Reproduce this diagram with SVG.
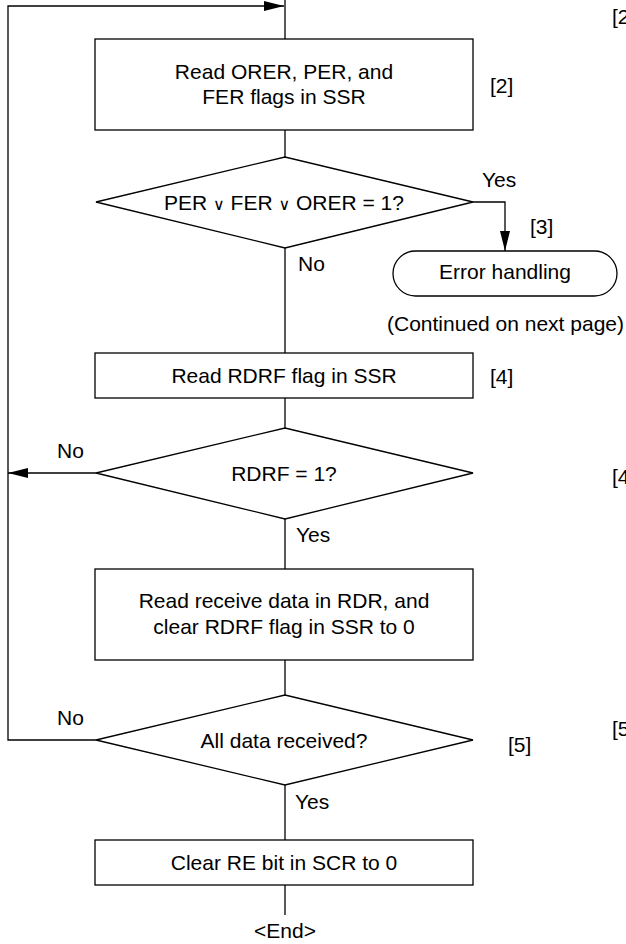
<svg xmlns="http://www.w3.org/2000/svg" width="626" height="944" viewBox="0 0 626 944">
<style>
text{font-family:"Liberation Sans",Arial,sans-serif;font-size:21px;fill:#000}
.c{text-anchor:middle}
.s{fill:#fff;stroke:#000;stroke-width:1.3}
.l{fill:none;stroke:#000;stroke-width:1.3}
.v{font-family:"DejaVu Sans",sans-serif;font-size:16px}
</style>
<defs>
<marker id="ah" markerUnits="userSpaceOnUse" markerWidth="20" markerHeight="10" refX="20" refY="5" orient="auto">
<path d="M0,0 L20,5 L0,10 z" fill="#000"/>
</marker>
</defs>
<g id="connectors">
<path class="l" d="M285,0 V39"/>
<path class="l" d="M285,130 V157"/>
<path class="l" d="M285,248 V353"/>
<path class="l" d="M285,398 V428"/>
<path class="l" d="M285,519 V569"/>
<path class="l" d="M285,660 V695"/>
<path class="l" d="M285,785 V840"/>
<path class="l" d="M285,885 V915"/>
<path class="l" d="M473,202 H505 V251" marker-end="url(#ah)"/>
<path class="l" d="M96,473 H8" marker-end="url(#ah)"/>
<path class="l" d="M96,740 H8 V6 H284" marker-end="url(#ah)"/>
</g>
<g id="n1">
<rect class="s" x="95" y="39" width="378" height="91"/>
<text class="c" x="284" y="79">Read ORER, PER, and</text>
<text class="c" x="284" y="104">FER flags in SSR</text>
</g>
<g id="n2">
<polygon class="s" points="96,202 285,157 473,202 285,248"/>
<text class="c" x="284" y="210">PER <tspan class="v">∨</tspan> FER <tspan class="v">∨</tspan> ORER = 1?</text>
</g>
<g id="n3">
<rect class="s" x="393" y="251" width="224" height="45" rx="22.5" ry="22.5"/>
<text class="c" x="505" y="279">Error handling</text>
</g>
<g id="n4">
<rect class="s" x="95" y="353" width="378" height="45"/>
<text class="c" x="284" y="383">Read RDRF flag in SSR</text>
</g>
<g id="n5">
<polygon class="s" points="96,473 285,428 473,473 285,519"/>
<text class="c" x="284" y="481">RDRF = 1?</text>
</g>
<g id="n6">
<rect class="s" x="95" y="569" width="378" height="91"/>
<text class="c" x="284" y="608">Read receive data in RDR, and</text>
<text class="c" x="284" y="634">clear RDRF flag in SSR to 0</text>
</g>
<g id="n7">
<polygon class="s" points="96,740 285,695 473,740 285,785"/>
<text class="c" x="284" y="748">All data received?</text>
</g>
<g id="n8">
<rect class="s" x="95" y="840" width="378" height="45"/>
<text class="c" x="284" y="870">Clear RE bit in SCR to 0</text>
</g>
<g id="labels">
<text x="482" y="187">Yes</text>
<text x="530" y="234">[3]</text>
<text x="298" y="271">No</text>
<text x="624" y="331" text-anchor="end">(Continued on next page)</text>
<text x="490" y="93">[2]</text>
<text x="490" y="384">[4]</text>
<text x="57" y="458">No</text>
<text x="296" y="542">Yes</text>
<text x="57" y="725">No</text>
<text x="508" y="752">[5]</text>
<text x="295" y="809">Yes</text>
<text class="c" x="285" y="938">&lt;End&gt;</text>
<text x="612" y="24">[2</text>
<text x="612" y="484">[4</text>
<text x="612" y="736">[5</text>
</g>
</svg>
